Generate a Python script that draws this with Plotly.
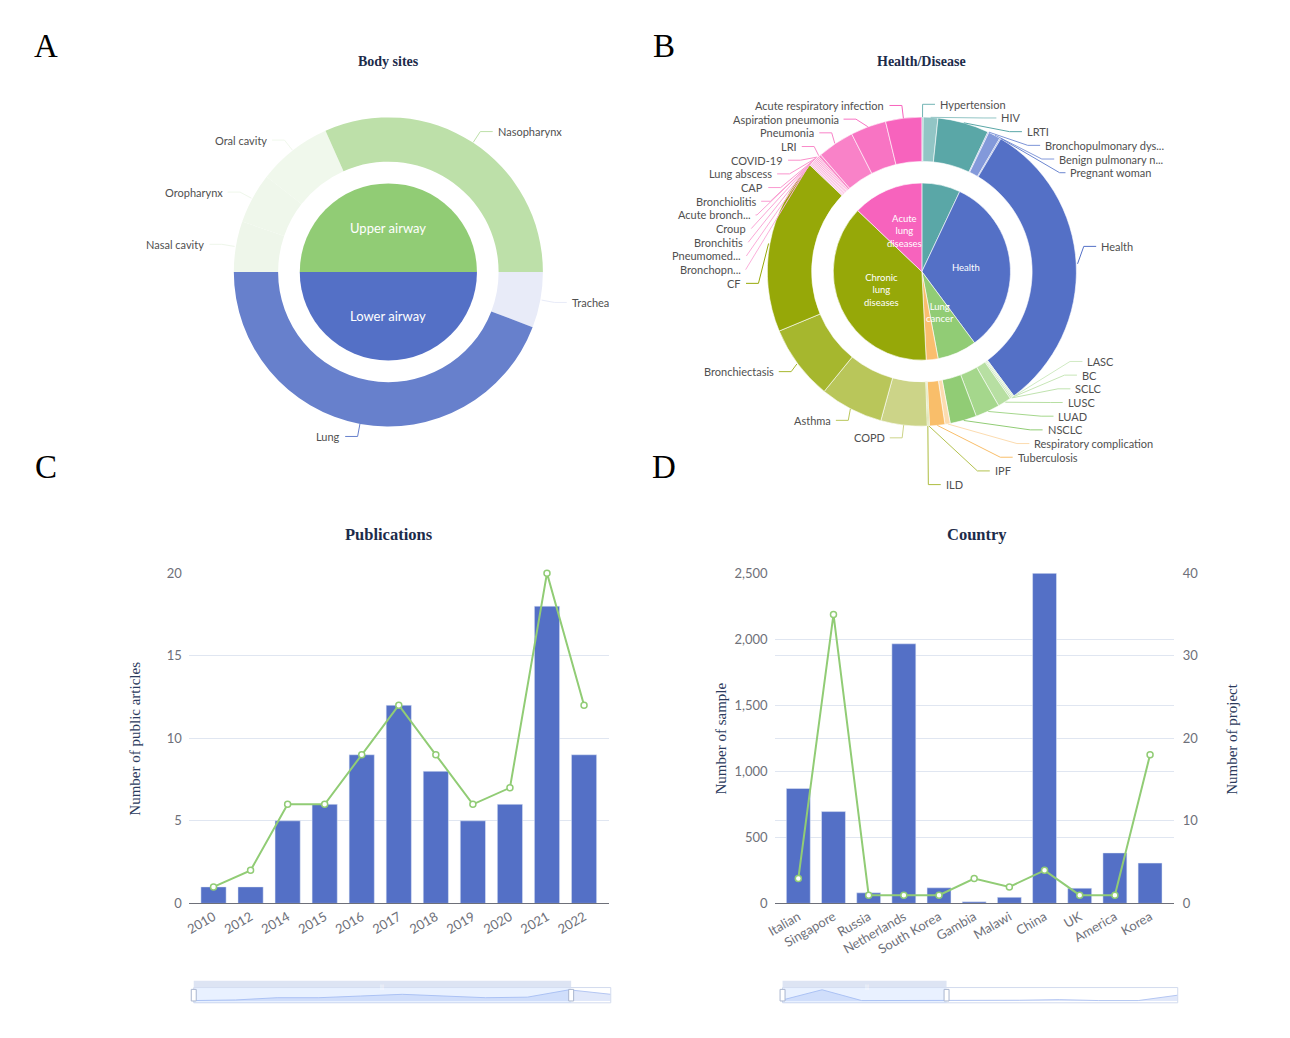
import math
import plotly.graph_objects as go

# page is 1290x1038; the html body keeps its default 8px margin
OFF = 8
W, H = 1290 - 2 * OFF, 1038 - 2 * OFF

# ---------------- Panel A : Body sites ----------------
bs_inner_labels = ["Upper airway", "Lower airway"]
bs_inner_colors = ["#91cc75", "#5470c6"]
bs_outer_labels = ["Nasal cavity", "Oropharynx", "Oral cavity", "Nasopharynx", "Trachea", "Lung"]
bs_outer_values = [19, 19, 28, 114, 21, 159]
bs_outer_parent = [0, 0, 0, 0, 1, 1]
bs_outer_colors = ["#eef6ea", "#eff7eb", "#f0f8ec", "#bde0a9", "#e8ebf8", "#6780cc"]

# ---------------- Panel B : Health/Disease ----------------
hd_inner_text = ["", "Health", "Lung<br>cancer", "", "Chronic<br>lung<br>diseases", "Acute<br>lung<br>diseases"]
hd_inner_colors = ["#5aa7a7", "#5470c6", "#91cc75", "#fabe6e", "#96a808", "#f763bd"]
hd_outer_labels = [
    "Hypertension", "HIV", "LRTI",
    "Bronchopulmonary dys...", "Benign pulmonary n...", "Pregnant woman", "Health",
    "LASC", "BC", "SCLC", "LUSC", "LUAD", "NSCLC",
    "Respiratory complication", "Tuberculosis",
    "IPF", "ILD", "COPD", "Asthma", "Bronchiectasis", "CF",
    "Bronchopn...", "Pneumomed...", "Bronchitis", "Croup", "Acute bronch...", "Bronchiolitis",
    "CAP", "Lung abscess", "COVID-19", "LRI", "Pneumonia", "Aspiration pneumonia",
    "Acute respiratory infection",
]
hd_outer_values = [
    0.5, 5.5, 19.3,
    0.4, 4.6, 0.4, 112.8,
    0.5, 0.5, 0.6, 5.1, 9.2, 10.0,
    2.0, 5.8,
    0.4, 0.4, 17.4, 23.8, 28.2, 66.2,
    0.5, 0.5, 0.5, 0.5, 0.5, 0.5,
    0.5, 0.5, 0.5, 1.0, 13.9, 13.4,
    13.6,
]
hd_outer_parent = [0, 0, 0, 1, 1, 1, 1, 2, 2, 2, 2, 2, 2, 3, 3, 4, 4, 4, 4, 4, 4,
                   5, 5, 5, 5, 5, 5, 5, 5, 5, 5, 5, 5, 5]
hd_outer_colors = [
    "#72b4b4", "#92c5c5", "#5aa7a7",
    "#7d94d7", "#8399da", "#6d87d0", "#5470c6",
    "#d0eac3", "#c7e6b7", "#c0e3af", "#b7dfa2", "#a5d78c", "#91cc75",
    "#fcdcb0", "#f9be6a",
    "#b4c24f", "#aebd40", "#ccd488", "#b9c65a", "#a6b72e", "#96a808",
    "#fbb0db", "#fbacd9", "#faa8d7", "#faa4d5", "#faa0d3", "#fa9cd1",
    "#fa98cf", "#fa94cd", "#fa90cb", "#f98ac9", "#f982c8", "#f874c3",
    "#f763bd",
]

# ---------------- Panel C : Publications ----------------
pub_years = ["2010", "2012", "2014", "2015", "2016", "2017", "2018", "2019", "2020", "2021", "2022"]
pub_articles = [1, 1, 5, 6, 9, 12, 8, 5, 6, 18, 9]
pub_trend = [1, 2, 6, 6, 9, 12, 9, 6, 7, 20, 12]

# ---------------- Panel D : Country ----------------
countries = ["Italian", "Singapore", "Russia", "Netherlands", "South Korea", "Gambia",
             "Malawi", "China", "UK", "America", "Korea"]
country_samples = [870, 695, 80, 1965, 118, 12, 46, 2500, 115, 382, 305]
country_projects = [3, 35, 1, 1, 1, 3, 2, 4, 1, 1, 18]

LABEL_FONT = dict(family="Lato", size=11, color="#505050")
TICK_FONT = dict(family="Lato", size=13, color="#6e7079")
SERIF = "Liberation Serif"


def group_sums(values, parent, n):
    out = [0.0] * n
    for v, p in zip(values, parent):
        out[p] += v
    return out


def px_x(x):
    return (x - OFF) / W


def px_y(y):
    return 1 - (y - OFF) / H


def pie_domain(cx, cy, r):
    return dict(x=[px_x(cx - r), px_x(cx + r)], y=[px_y(cy + r), px_y(cy - r)])


# ---------- ECharts-like outside label layout ----------
def shift_on_y(lst, lh, lo, hi):
    n = len(lst)
    if n < 2:
        return False
    lst.sort(key=lambda it: it["ty"])
    last = 0.0
    adjusted = False
    for it in lst:
        delta = (it["ty"] - lh / 2) - last
        if delta < 0:
            it["ty"] -= delta
            adjusted = True
        last = it["ty"] + lh / 2

    def shift_list(delta, s, e):
        for j in range(s, e):
            lst[j]["ty"] += delta

    def gaps():
        return lst[0]["ty"] - lh / 2 - lo, hi - (lst[-1]["ty"] + lh / 2)

    def squeeze(delta, maxp):
        gs = [max(lst[i]["ty"] - lst[i - 1]["ty"] - lh, 0) for i in range(1, n)]
        tot = sum(gs)
        if tot <= 0:
            return
        p = min(abs(delta) / tot, maxp)
        if delta > 0:
            for i in range(n - 1):
                shift_list(gs[i] * p, 0, i + 1)
        else:
            for i in range(n - 1, 0, -1):
                shift_list(-gs[i - 1] * p, i, n)

    def take(g_this, g_other, mdir):
        if g_this < 0:
            mv = min(g_other, -g_this)
            if mv > 0:
                shift_list(mv * mdir, 0, n)
                rem = mv + g_this
                if rem < 0:
                    squeeze(-rem * mdir, 1)
            else:
                squeeze(-g_this * mdir, 1)

    mn, mx = gaps()
    if mn < 0:
        squeeze(-mn, 0.8)
    if mx < 0:
        squeeze(mx, 0.8)
    mn, mx = gaps()
    take(mn, mx, 1)
    take(mx, mn, -1)
    return adjusted


def recalc_x(lst, cx, cy, r, d, len1, len2):
    rA = r + len1
    semis = [dict(lst=[], maxY=0.0, rB=None), dict(lst=[], maxY=0.0, rB=None)]
    for it in lst:
        semi = semis[1] if it["ty"] > cy else semis[0]
        dy = abs(it["ty"] - cy)
        if dy >= semi["maxY"]:
            dx = it["tx"] - cx - len2 * d
            semi["rB"] = math.sqrt(dy * dy / (1 - dx * dx / rA / rA)) if abs(dx) < rA else rA
            semi["maxY"] = dy
        semi["lst"].append(it)
    for semi in semis:
        rB = semi["rB"]
        if not semi["lst"] or not rB:
            continue
        for it in semi["lst"]:
            dy = abs(it["ty"] - cy)
            val = (1 - dy * dy / (rB * rB)) * rA * rA
            dxn = math.sqrt(val) if val > 0 else 0.0
            it["tx"] = cx + (dxn + len2) * d


def _proj(p1, p2, p):
    ax, ay = p2[0] - p1[0], p2[1] - p1[1]
    l2 = ax * ax + ay * ay
    t = ((p[0] - p1[0]) * ax + (p[1] - p1[1]) * ay) / l2 if l2 else 0.0
    q = [p1[0] + t * ax, p1[1] + t * ay]
    return math.hypot(p[0] - q[0], p[1] - q[1]), q


def _clamp_on(q, p1, p2):
    if p2[0] != p1[0]:
        t = (q[0] - p1[0]) / (p2[0] - p1[0])
    elif p2[1] != p1[1]:
        t = (q[1] - p1[1]) / (p2[1] - p1[1])
    else:
        return list(p1)
    if t < 0:
        return list(p1)
    if t > 1:
        return list(p2)
    return q


def limit_turn(pts, min_deg):
    a = math.radians(min_deg)
    p0, p1, p2 = pts
    d1 = [p0[0] - p1[0], p0[1] - p1[1]]
    d2 = [p2[0] - p1[0], p2[1] - p1[1]]
    l1, l2 = math.hypot(*d1), math.hypot(*d2)
    if l1 < 1e-3 or l2 < 1e-3:
        return
    d1 = [d1[0] / l1, d1[1] / l1]
    d2 = [d2[0] / l2, d2[1] / l2]
    if math.cos(a) < d1[0] * d2[0] + d1[1] * d2[1]:
        dist, q = _proj(p1, p2, p0)
        k = dist / math.tan(math.pi - a)
        q = [q[0] + d2[0] * k, q[1] + d2[1] * k]
        pts[1] = _clamp_on(q, p1, p2)


def limit_surface(pts, nrm, max_deg):
    a = math.radians(max_deg)
    p0, p1, p2 = pts
    d1 = [p1[0] - p0[0], p1[1] - p0[1]]
    d2 = [p2[0] - p1[0], p2[1] - p1[1]]
    l1, l2 = math.hypot(*d1), math.hypot(*d2)
    if l1 < 1e-3 or l2 < 1e-3:
        return
    d1 = [d1[0] / l1, d1[1] / l1]
    d2 = [d2[0] / l2, d2[1] / l2]
    if d1[0] * nrm[0] + d1[1] * nrm[1] < math.cos(a):
        dist, q = _proj(p1, p2, p0)
        ang2 = math.acos(max(-1.0, min(1.0, d2[0] * nrm[0] + d2[1] * nrm[1])))
        na = math.pi / 2 + ang2 - a
        if na >= math.pi / 2:
            q = list(p2)
        else:
            k = dist / math.tan(math.pi / 2 - na)
            q = [q[0] + d2[0] * k, q[1] + d2[1] * k]
            q = _clamp_on(q, p1, p2)
        pts[1] = q


def pie_labels(cx, cy, r, labels, values, colors, start_deg,
               len1=13, len2=12.5, dist=5, lh=13.9, lo=40, hi=491):
    total = float(sum(values))
    items = []
    acc = start_deg
    for lab, v, col in zip(labels, values, colors):
        span = v / total * 360.0
        mid = math.radians(acc + span / 2.0)
        acc += span
        nx, ny = math.sin(mid), -math.cos(mid)
        d = -1 if nx < 0 else 1
        x2, y2 = cx + (r + len1) * nx, cy + (r + len1) * ny
        items.append(dict(text=lab, color=col, nx=nx, ny=ny, d=d,
                          x1=cx + r * nx, y1=cy + r * ny,
                          tx=x2 + d * (len2 + dist), ty=y2))
    for side in (-1, 1):
        lst = [it for it in items if it["d"] == side]
        if shift_on_y(lst, lh, lo, hi):
            recalc_x(lst, cx, cy, r, side, len1, len2)
    for it in items:
        d = it["d"]
        ex = it["tx"] - d * dist
        bx = ex - d * len2
        pts = [[it["x1"], it["y1"]], [bx, it["ty"]], [ex, it["ty"]]]
        limit_turn(pts, 90)
        limit_surface(pts, (it["nx"], it["ny"]), 90)
        it["pts"] = pts
    return items


def inner_label_pos(cx, cy, rr, values, start_deg):
    total = float(sum(values))
    acc = start_deg
    out = []
    for v in values:
        span = v / total * 360.0
        mid = math.radians(acc + span / 2.0)
        acc += span
        out.append((cx + rr * math.sin(mid), cy - rr * math.cos(mid)))
    return out


fig = go.Figure()
shapes = []
annotations = []

R_OUT, R_HOLE, R_IN = 157, 112, 90


def add_sunburst_like(cx, cy, in_labels, in_colors, in_text, out_labels, out_values,
                      out_parent, out_colors, rotation, line_w, in_font_size):
    in_values = group_sums(out_values, out_parent, len(in_colors))
    fig.add_trace(go.Pie(
        values=out_values, labels=out_labels, sort=False, direction="clockwise",
        rotation=rotation, hole=R_HOLE / R_OUT, textinfo="none", hoverinfo="none",
        marker=dict(colors=out_colors, line=dict(color="white", width=line_w)),
        domain=pie_domain(cx, cy, R_OUT), showlegend=False))
    fig.add_trace(go.Pie(
        values=in_values, labels=in_labels, sort=False, direction="clockwise",
        rotation=rotation, textinfo="none", hoverinfo="none",
        marker=dict(colors=in_colors, line=dict(color="white", width=line_w)),
        domain=pie_domain(cx, cy, R_IN), showlegend=False))
    for (x, y), t in zip(inner_label_pos(cx, cy, R_IN / 2, in_values, rotation), in_text):
        if t:
            annotations.append(dict(x=px_x(x), y=px_y(y), xref="paper", yref="paper", text=t,
                                    showarrow=False, xanchor="center", yanchor="middle",
                                    font=dict(family="Lato", size=in_font_size, color="white"),
                                    borderpad=0, borderwidth=0))
    for it in pie_labels(cx, cy, R_OUT, out_labels, out_values, out_colors, rotation):
        p = it["pts"]
        path = "M {} {} L {} {} L {} {}".format(
            px_x(p[0][0]), px_y(p[0][1]), px_x(p[1][0]), px_y(p[1][1]), px_x(p[2][0]), px_y(p[2][1]))
        shapes.append(dict(type="path", path=path, xref="paper", yref="paper",
                           line=dict(color=it["color"], width=1), layer="above"))
        annotations.append(dict(x=px_x(it["tx"]), y=px_y(it["ty"]), xref="paper", yref="paper",
                                text=it["text"], showarrow=False,
                                xanchor="left" if it["d"] > 0 else "right", yanchor="middle",
                                font=LABEL_FONT, borderpad=0, borderwidth=0))


# Panel A
add_sunburst_like(382, 268, ["Upper airway", "Lower airway"], bs_inner_colors,
                  bs_inner_labels, bs_outer_labels, bs_outer_values, bs_outer_parent,
                  bs_outer_colors, -90, 0, 13)
# Panel B
add_sunburst_like(919.3, 267.7, ["g{}".format(i) for i in range(len(hd_inner_colors))],
                  hd_inner_colors, hd_inner_text, hd_outer_labels, hd_outer_values,
                  hd_outer_parent, hd_outer_colors, 0, 0.6, 9.5)

# Panel C
fig.add_trace(go.Bar(x=pub_years, y=pub_articles, xaxis="x3", yaxis="y3",
                     marker=dict(color="#5470c6"), hoverinfo="none", showlegend=False))
fig.add_trace(go.Scatter(x=pub_years, y=pub_trend, xaxis="x3", yaxis="y3", mode="lines+markers",
                         line=dict(color="#91cc75", width=2),
                         marker=dict(size=6, color="white", line=dict(color="#91cc75", width=1.5)),
                         cliponaxis=False, hoverinfo="none", showlegend=False))
# Panel D
fig.add_trace(go.Bar(x=countries, y=country_samples, xaxis="x4", yaxis="y4",
                     marker=dict(color="#5470c6"), hoverinfo="none", showlegend=False))
fig.add_trace(go.Scatter(x=countries, y=country_projects, xaxis="x4", yaxis="y5",
                         mode="lines+markers", line=dict(color="#91cc75", width=2),
                         marker=dict(size=6, color="white", line=dict(color="#91cc75", width=1.5)),
                         cliponaxis=False, hoverinfo="none", showlegend=False))

# data-zoom sliders (shadow of the line series)
fig.add_trace(go.Scatter(x=list(range(len(pub_trend))), y=pub_trend, xaxis="x6", yaxis="y6",
                         mode="lines", fill="tozeroy", line=dict(color="#b4c6f2", width=1),
                         fillcolor="rgba(170,190,240,0.35)", hoverinfo="none", showlegend=False))
fig.add_trace(go.Scatter(x=list(range(len(country_projects))), y=country_projects, xaxis="x7",
                         yaxis="y7", mode="lines", fill="tozeroy", line=dict(color="#b4c6f2", width=1),
                         fillcolor="rgba(170,190,240,0.35)", hoverinfo="none", showlegend=False))

PLOT_TOP, PLOT_BOT = 574, 909.5
C_X0, C_X1 = 181, 604
D_X0, D_X1 = 771, 1173
grid = "#e0e6f1"

fig.update_layout(
    width=W, height=H, margin=dict(l=0, r=0, t=0, b=0),
    paper_bgcolor="white", plot_bgcolor="white", showlegend=False, bargap=0.32,
    xaxis3=dict(domain=[px_x(C_X0), px_x(C_X1)], anchor="y3", type="category", tickangle=-30,
                tickfont=TICK_FONT, showline=True, linecolor="#6e7079", showgrid=False,
                ticks="", fixedrange=True),
    yaxis3=dict(domain=[px_y(PLOT_BOT), px_y(PLOT_TOP)], anchor="x3", range=[0, 20], dtick=5,
                showgrid=True, gridcolor=grid, zeroline=False, showline=False,
                tickfont=TICK_FONT, ticklabelstandoff=6, fixedrange=True),
    xaxis4=dict(domain=[px_x(D_X0), px_x(D_X1)], anchor="y4", type="category", tickangle=-30,
                tickfont=TICK_FONT, showline=True, linecolor="#6e7079", showgrid=False,
                ticks="", fixedrange=True),
    yaxis4=dict(domain=[px_y(PLOT_BOT), px_y(PLOT_TOP)], anchor="x4", range=[0, 2500], dtick=500,
                tickformat=",", showgrid=True, gridcolor=grid, zeroline=False, showline=False,
                tickfont=TICK_FONT, ticklabelstandoff=6, fixedrange=True),
    yaxis5=dict(overlaying="y4", anchor="x4", side="right", range=[0, 40], dtick=10,
                showgrid=True, gridcolor=grid, zeroline=False, showline=False,
                tickfont=TICK_FONT, ticklabelstandoff=8, fixedrange=True),
    xaxis6=dict(domain=[px_x(186), px_x(606)], anchor="y6", range=[0, len(pub_trend) - 1],
                visible=False, fixedrange=True),
    yaxis6=dict(domain=[px_y(1010.5), px_y(995)], anchor="x6", range=[-3, 24], visible=False,
                fixedrange=True),
    xaxis7=dict(domain=[px_x(779), px_x(1177)], anchor="y7", range=[0, len(country_projects) - 1],
                visible=False, fixedrange=True),
    yaxis7=dict(domain=[px_y(1010.5), px_y(995)], anchor="x7", range=[-6, 42], visible=False,
                fixedrange=True),
)

# slider decorations
for ax, win_end, wpx in (("6", 0.905, 420), ("7", 0.415, 398)):
    xr, yr = "x{} domain".format(ax), "y{} domain".format(ax)
    shapes.append(dict(type="rect", xref=xr, yref=yr, x0=0, x1=1, y0=0, y1=1,
                       line=dict(color="#d2dbee", width=1), fillcolor="rgba(0,0,0,0)", layer="above"))
    shapes.append(dict(type="rect", xref=xr, yref=yr, x0=0, x1=win_end, y0=0, y1=1,
                       line=dict(width=0), fillcolor="rgba(135,175,255,0.18)", layer="above"))
    shapes.append(dict(type="rect", xref=xr, yref=yr, x0=0, x1=win_end, y0=1, y1=1.45,
                       line=dict(width=0), fillcolor="#dde4f3", layer="above"))
    hw = 2.5 / wpx
    for hx in (0, win_end):
        shapes.append(dict(type="rect", xref=xr, yref=yr, x0=hx - hw, x1=hx + hw, y0=0.12, y1=0.88,
                           line=dict(color="#aab6cf", width=1), fillcolor="white", layer="above"))
    annotations.append(dict(xref=xr, yref=yr, x=win_end / 2, y=1.22, text="|||", showarrow=False,
                            font=dict(family="Lato", size=5, color="white"), borderpad=0,
                            borderwidth=0))


def note(x, y, text, font, angle=0):
    annotations.append(dict(x=px_x(x), y=px_y(y), xref="paper", yref="paper", text=text,
                            showarrow=False, xanchor="center", yanchor="middle", font=font,
                            textangle=angle, borderpad=0, borderwidth=0))


title_font_small = dict(family=SERIF, size=14, color="#1c2b4a")
title_font = dict(family=SERIF, size=16.5, color="#1c2b4a")
note(382, 54, "<b>Body sites</b>", title_font_small)
note(919, 54, "<b>Health/Disease</b>", title_font_small)
note(383, 535, "<b>Publications</b>", title_font)
note(975, 535, "<b>Country</b>", title_font)
letter_font = dict(family=SERIF, size=33, color="black")
note(37, 38, "A", letter_font)
note(660, 38, "B", letter_font)
note(37, 466, "C", letter_font)
note(660, 466, "D", letter_font)
axis_title_font = dict(family=SERIF, size=15, color="#2b3a5c")
note(126, 742, "Number of public articles", axis_title_font, -90)
note(717, 742, "Number of sample", axis_title_font, -90)
note(1231, 742, "Number of project", axis_title_font, -90)

fig.update_layout(shapes=shapes, annotations=annotations)

fig.write_html("out.html", config={"displayModeBar": False})
